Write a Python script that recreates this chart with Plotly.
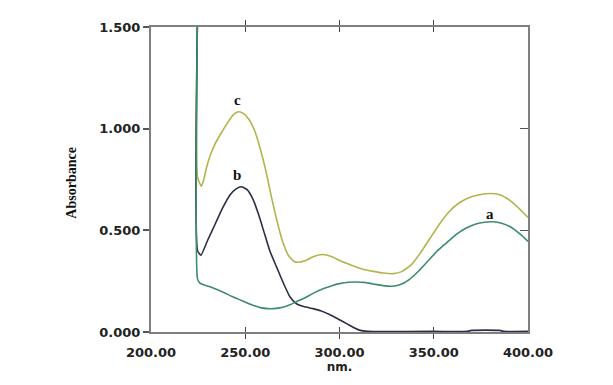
import plotly.graph_objects as go

# wavelength (nm) / absorbance readings
wl_c = [224.7, 224.7, 226.7, 228, 229.5, 231.5, 234, 237, 240, 242.5, 244.5, 246.5, 249, 252, 255, 258, 261, 264, 267, 270, 273, 276, 278,
        282, 286, 291, 296, 300, 306, 312, 318, 323, 328.5, 333, 338, 343, 348, 353, 358, 363, 368, 373, 379.7, 385, 390, 395, 400]
abs_c = [1.6, 0.76, 0.717, 0.75, 0.81, 0.87, 0.925, 0.975, 1.02, 1.055, 1.075, 1.083, 1.075, 1.045, 0.99, 0.9, 0.79, 0.66, 0.54, 0.44, 0.375, 0.347, 0.343,
         0.352, 0.37, 0.381, 0.37, 0.352, 0.33, 0.31, 0.298, 0.29, 0.287, 0.297, 0.33, 0.39, 0.46, 0.53, 0.59, 0.632, 0.658, 0.673, 0.681, 0.675, 0.65, 0.61, 0.563]

wl_b = [224.7, 224.7, 226.5, 230, 234, 238, 242, 245, 248, 251, 254, 257, 260, 263, 266.6, 270, 273.7, 277, 281, 286, 290, 295, 300, 304, 308, 311,
        315, 320, 350, 368, 370, 385, 387, 400]
abs_b = [1.6, 0.40, 0.378, 0.45, 0.53, 0.61, 0.675, 0.703, 0.714, 0.70, 0.655, 0.58, 0.49, 0.40, 0.32, 0.245, 0.173, 0.14, 0.125, 0.115, 0.105, 0.085, 0.06, 0.04, 0.02, 0.008,
         0.003, 0.002, 0.003, 0.003, 0.008, 0.008, 0.003, 0.003]

wl_a = [224.7, 224.7, 226, 228, 232, 238, 243, 248, 253, 258, 262, 265, 270, 274, 277, 282, 287, 292, 296, 300, 305, 309, 313, 318, 323, 327.6,
        332, 337, 342, 347, 352, 357, 362, 367, 372, 377, 381.5, 386, 391, 396, 400]
abs_a = [1.6, 0.26, 0.24, 0.232, 0.22, 0.197, 0.175, 0.155, 0.135, 0.12, 0.115, 0.115, 0.122, 0.135, 0.148, 0.17, 0.195, 0.215, 0.228, 0.238, 0.245, 0.246, 0.244, 0.236, 0.228, 0.225,
         0.232, 0.258, 0.3, 0.35, 0.4, 0.44, 0.48, 0.51, 0.53, 0.54, 0.542, 0.535, 0.515, 0.48, 0.446]

curve_labels = ["c", "b", "a"]
label_x = [245.7, 245.7, 380.0]
label_y = [1.139, 0.772, 0.58]

x_ticks = [200, 250, 300, 350, 400]
x_ticktext = ["200.00", "250.00", "300.00", "350.00", "400.00"]
y_ticks = [0, 0.5, 1.0, 1.5]
y_ticktext = ["0.000", "0.500", "1.000", "1.500"]

colors = {"a": "#3e8c6c", "b": "#2b2f45", "c": "#b2b44e"}

fig = go.Figure()
fig.add_trace(go.Scatter(x=wl_c, y=abs_c, mode="lines", line=dict(color=colors["c"], width=1.6, shape="spline", smoothing=0.5), showlegend=False))
fig.add_trace(go.Scatter(x=wl_b, y=abs_b, mode="lines", line=dict(color=colors["b"], width=1.6, shape="spline", smoothing=0.5), showlegend=False))
fig.add_trace(go.Scatter(x=wl_a, y=abs_a, mode="lines", line=dict(color=colors["a"], width=1.6, shape="spline", smoothing=0.5), showlegend=False))
fig.add_trace(go.Scatter(x=[], y=[], yaxis="y2", showlegend=False))

for t, lx, ly in zip(curve_labels, label_x, label_y):
    fig.add_annotation(x=lx, y=ly, text="<b>" + t + "</b>", showarrow=False,
                       font=dict(family="Liberation Serif", size=15, color="#111"))

fig.add_annotation(xref="paper", yref="paper", x=-0.212, y=0.49, xanchor="center", yanchor="middle",
                   text="<b>Absorbance</b>", textangle=-90,
                   showarrow=False, font=dict(family="Liberation Serif", size=14, color="#111"))

tickfont = dict(family="DejaVu Sans", size=13, color="#222", weight="bold")
fig.update_layout(
    width=613, height=385,
    margin=dict(l=143, r=93, t=17, b=61),
    paper_bgcolor="white", plot_bgcolor="white",
    xaxis=dict(range=[200, 400], tickvals=x_ticks, ticktext=x_ticktext, ticks="inside", ticklen=5,
               tickcolor="#444", tickwidth=1, mirror="allticks", showline=True, linecolor="#7f7f7f",
               linewidth=2, showgrid=False, zeroline=False, tickfont=tickfont, ticklabelstandoff=7,
               title=dict(text="<b>nm.</b>", font=dict(family="DejaVu Sans", size=12, color="#222"), standoff=0)),
    yaxis=dict(range=[0, 1.5], tickvals=y_ticks, ticktext=y_ticktext, ticks="outside", ticklen=6,
               tickcolor="#555", tickwidth=1.5, showline=True, linecolor="#7f7f7f", linewidth=2,
               mirror=True, showgrid=False, zeroline=False, tickfont=tickfont, ticklabelstandoff=0),
    yaxis2=dict(range=[0, 1.5], overlaying="y", side="right", tickvals=y_ticks, ticks="inside", ticklen=8,
                tickcolor="#555", tickwidth=1.2, showticklabels=False, showgrid=False, zeroline=False,
                showline=False),
)

fig.write_html("out.html")
